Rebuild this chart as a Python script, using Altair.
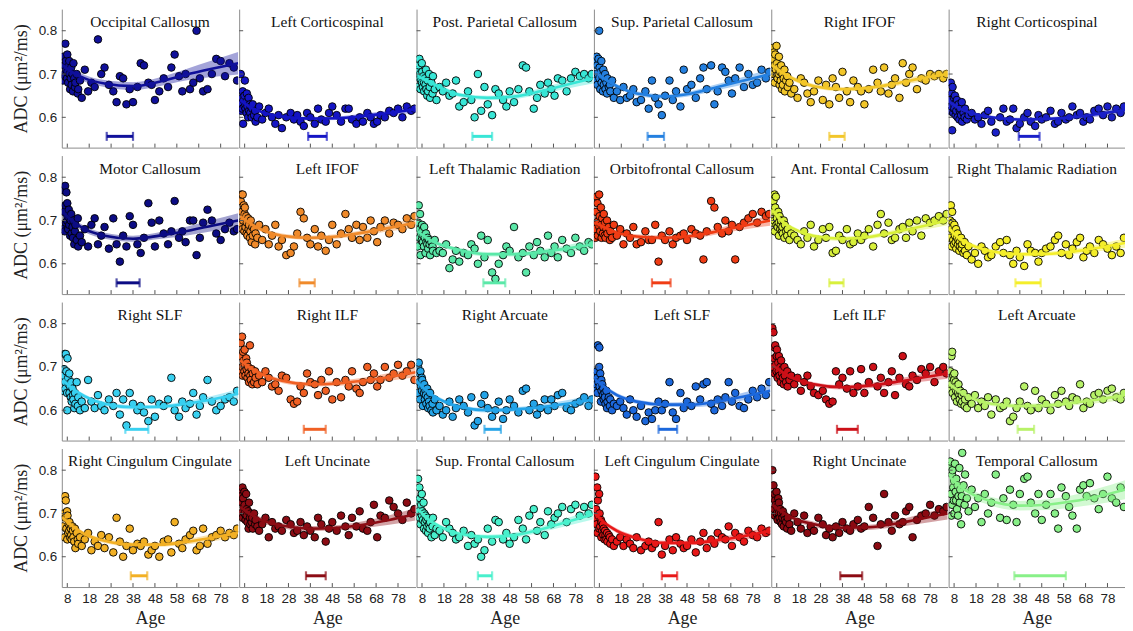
import altair as alt
import pandas as pd

# ---------------- layout constants ----------------
W, H = 177, 139
X_DOMAIN = [5.5, 86]
Y_DOMAIN = [0.53, 0.85]
X_TICKS = [8, 18, 28, 38, 48, 58, 68, 78]
Y_TICKS = [0.6, 0.7, 0.8]
BAR_LEVEL = 0.556

# ---------------- data ----------------
AGES = [6.0, 6.2, 6.5, 6.8, 7.0, 7.1, 7.3, 7.6, 7.9, 8.0,
        8.1, 8.4, 8.7, 8.9, 9.0, 9.3, 9.6, 9.8, 10.0, 10.4,
        10.6, 10.8, 11.2, 11.5, 11.7, 12.3, 12.8, 13.0, 13.8, 14.6,
        16, 17.5, 19, 20.5, 22, 23.5, 25, 27, 29, 30.5,
        32, 33.5, 35, 36.5, 38, 40, 41.5, 43, 45, 46.5,
        48, 50, 52, 54, 55.5, 57, 59, 60.5, 62, 64,
        65.5, 67, 68.5, 70, 72, 74, 76, 78, 80, 82,
        84, 85.5]

FIT_AGES = [6, 10, 16, 25, 38, 50, 62, 74, 86]

TITLES = ["Occipital Callosum", "Left Corticospinal", "Post. Parietal Callosum",
          "Sup. Parietal Callosum", "Right IFOF", "Right Corticospinal",
          "Motor Callosum", "Left IFOF", "Left Thalamic Radiation",
          "Orbitofrontal Callosum", "Ant. Frontal Callosum", "Right Thalamic Radiation",
          "Right SLF", "Right ILF", "Right Arcuate",
          "Left SLF", "Left ILF", "Left Arcuate",
          "Right Cingulum Cingulate", "Left Uncinate", "Sup. Frontal Callosum",
          "Left Cingulum Cingulate", "Right Uncinate", "Temporal Callosum"]

COLORS = ["#10109a", "#1414c4", "#38e6d6", "#2480e0", "#f2c62a", "#1a20c8",
          "#0c0c84", "#f08a2a", "#5ae8a8", "#f03c14", "#d8f03a", "#f4ee2a",
          "#38d0f0", "#f06024", "#24a4e8", "#1c68dc", "#cc1018", "#b8f268",
          "#f2b024", "#8c0c14", "#48f0cc", "#e81818", "#8c0a12", "#88f088"]

# age range (years) of the horizontal bar under each curve
BAR_RANGES = [[26, 38], [37, 45.5], [31, 40], [30, 37.5], [32, 39], [37.5, 47],
              [30.5, 41], [33, 40], [36, 46], [32, 40.5], [32, 38.5], [36, 47.5],
              [34.5, 45], [35, 45], [36.5, 44], [35, 43.5], [35.5, 45], [37, 44.5],
              [37, 44.5], [36, 45], [33.5, 40], [36.5, 43.5], [37, 47], [35.5, 59]]

ADC_01 = [.685, .74, .72, .70, .695, .77, .73, .71, .69, .745,
          .705, .68, .72, .73, .70, .665, .69, .715, .675, .70,
          .66, .725, .69, .67, .68, .70, .655, .665, .685, .645,
          .71, .66, .68, .67, .78, .70, .715, .675, .66, .635,
          .695, .69, .63, .665, .635, .67, .725, .72, .68, .675,
          .64, .66, .69, .67, .715, .745, .695, .66, .70, .665,
          .68, .80, .69, .66, .665, .70, .735, .73, .695, .725,
          .715, .685]
ADC_02 = [.63, .70, .615, .645, .62, .66, .585, .64, .65, .625,
          .685, .62, .635, .61, .655, .625, .60, .645, .615, .63,
          .61, .625, .60, .62, .63, .605, .615, .59, .60, .625,
          .595, .61, .62, .60, .585, .605, .575, .60, .61, .595,
          .605, .59, .58, .61, .60, .585, .62, .595, .59, .61,
          .625, .605, .59, .62, .62, .595, .585, .60, .59, .61,
          .60, .585, .59, .605, .60, .615, .61, .62, .60, .625,
          .615, .62]
ADC_03 = [.67, .71, .72, .735, .69, .70, .665, .685, .725, .68,
          .705, .67, .695, .68, .66, .69, .675, .71, .665, .65,
          .685, .66, .70, .67, .645, .68, .655, .695, .665, .64,
          .67, .66, .68, .65, .655, .685, .625, .635, .66, .64,
          .60, .70, .615, .67, .63, .605, .665, .655, .64, .625,
          .66, .635, .665, .72, .715, .66, .62, .645, .675, .655,
          .68, .665, .65, .69, .685, .66, .69, .705, .695, .70,
          .69, .70]
ADC_04 = [.70, .73, .685, .74, .72, .675, .70, .735, .80, .69,
          .715, .665, .705, .73, .68, .695, .66, .71, .675, .69,
          .70, .665, .68, .655, .69, .67, .675, .66, .685, .645,
          .66, .64, .67, .645, .65, .665, .635, .64, .66, .62,
          .685, .645, .63, .605, .65, .685, .64, .66, .625, .71,
          .665, .675, .645, .69, .715, .665, .72, .63, .66, .715,
          .705, .685, .655, .69, .715, .67, .70, .675, .68, .71,
          .69, .705]
ADC_05 = [.76, .735, .70, .75, .72, .68, .745, .71, .765, .695,
          .725, .69, .715, .70, .74, .675, .705, .685, .72, .665,
          .70, .675, .69, .71, .66, .685, .695, .67, .68, .655,
          .665, .645, .69, .68, .655, .635, .66, .685, .64, .675,
          .63, .69, .67, .645, .705, .66, .635, .685, .67, .66,
          .63, .665, .71, .68, .66, .715, .655, .675, .69, .645,
          .725, .68, .70, .715, .665, .69, .685, .70, .695, .70,
          .69, .70]
ADC_06 = [.64, .615, .68, .625, .655, .57, .67, .61, .645, .63,
          .62, .65, .605, .635, .615, .64, .60, .625, .63, .595,
          .615, .62, .605, .635, .59, .61, .60, .62, .595, .605,
          .61, .595, .60, .585, .605, .615, .59, .565, .60, .62,
          .59, .595, .62, .575, .585, .60, .61, .59, .58, .605,
          .595, .60, .615, .585, .59, .61, .595, .60, .625, .605,
          .61, .59, .60, .595, .615, .62, .605, .625, .60, .62,
          .61, .625]
ADC_07 = [.68, .77, .72, .675, .78, .735, .695, .765, .70, .74,
          .71, .68, .725, .69, .705, .665, .70, .715, .67, .685,
          .66, .70, .645, .675, .69, .655, .705, .64, .665, .65,
          .68, .64, .69, .705, .645, .665, .685, .635, .705, .645,
          .605, .665, .64, .71, .69, .645, .625, .66, .74, .695,
          .64, .70, .67, .645, .675, .745, .66, .675, .65, .70,
          .70, .62, .66, .695, .725, .70, .67, .655, .68, .695,
          .675, .68]
ADC_08 = [.69, .745, .76, .72, .68, .76, .70, .735, .675, .715,
          .73, .685, .71, .67, .695, .665, .705, .68, .69, .66,
          .675, .70, .65, .685, .665, .68, .645, .67, .66, .69,
          .655, .68, .645, .665, .69, .64, .655, .62, .625, .64,
          .67, .72, .705, .66, .645, .68, .64, .665, .63, .655,
          .69, .645, .67, .715, .68, .66, .69, .655, .685, .66,
          .70, .675, .65, .685, .70, .67, .695, .69, .68, .705,
          .69, .71]
ADC_09 = [.64, .695, .735, .66, .68, .715, .62, .67, .655, .69,
          .675, .65, .665, .64, .685, .66, .625, .67, .65, .645,
          .66, .635, .655, .645, .62, .65, .64, .63, .655, .625,
          .63, .625, .645, .59, .61, .63, .605, .625, .62, .645,
          .635, .60, .665, .615, .655, .58, .565, .60, .62, .64,
          .63, .685, .615, .625, .58, .64, .62, .65, .63, .615,
          .665, .625, .64, .615, .655, .635, .625, .66, .64, .63,
          .65, .645]
ADC_10 = [.68, .66, .72, .755, .695, .74, .665, .70, .76, .685,
          .71, .675, .73, .69, .66, .705, .67, .685, .715, .665,
          .695, .66, .68, .70, .67, .685, .655, .675, .66, .69,
          .665, .68, .645, .67, .66, .685, .645, .65, .675, .655,
          .655, .69, .605, .665, .655, .675, .645, .66, .665, .67,
          .655, .68, .67, .665, .61, .675, .745, .73, .685, .67,
          .70, .675, .69, .61, .685, .695, .705, .715, .695, .72,
          .71, .715]
ADC_11 = [.695, .72, .745, .70, .76, .675, .73, .755, .69, .715,
          .705, .685, .72, .695, .665, .71, .68, .69, .70, .675,
          .685, .67, .70, .66, .69, .675, .665, .68, .655, .67,
          .665, .655, .645, .675, .66, .69, .64, .655, .68, .66,
          .685, .625, .63, .665, .655, .68, .645, .65, .67, .655,
          .665, .68, .64, .69, .715, .67, .695, .655, .66, .68,
          .685, .66, .695, .675, .70, .665, .705, .695, .70, .71,
          .70, .715]
ADC_12 = [.66, .70, .735, .68, .64, .72, .695, .655, .675, .645,
          .69, .665, .65, .68, .635, .66, .67, .645, .655, .63,
          .65, .64, .66, .635, .645, .625, .65, .63, .62, .64,
          .61, .625, .60, .64, .63, .615, .62, .64, .65, .625,
          .655, .62, .60, .63, .615, .595, .645, .63, .625, .605,
          .625, .635, .64, .655, .665, .625, .645, .62, .635, .65,
          .66, .615, .63, .64, .625, .655, .645, .635, .62, .64,
          .625, .66]
ADC_13 = [.645, .68, .695, .73, .665, .65, .73, .69, .64, .60,
          .72, .675, .66, .685, .64, .655, .63, .665, .62, .65,
          .635, .625, .605, .64, .615, .665, .61, .63, .60, .62,
          .605, .67, .62, .605, .635, .61, .60, .625, .61, .64,
          .59, .625, .565, .64, .615, .60, .61, .595, .575, .625,
          .585, .615, .61, .625, .675, .60, .585, .62, .605, .615,
          .64, .59, .61, .63, .67, .62, .60, .61, .625, .63,
          .62, .645]
ADC_14 = [.69, .755, .725, .77, .70, .68, .735, .715, .69, .74,
          .705, .68, .72, .695, .71, .675, .70, .685, .665, .75,
          .68, .67, .695, .66, .685, .665, .69, .675, .66, .68,
          .665, .69, .675, .655, .66, .645, .68, .675, .625, .615,
          .62, .655, .64, .685, .665, .66, .635, .67, .645, .69,
          .625, .665, .63, .67, .655, .69, .65, .64, .665, .70,
          .67, .685, .655, .67, .70, .675, .685, .705, .68, .69,
          .705, .67]
ADC_15 = [.64, .70, .71, .665, .685, .625, .69, .655, .675, .645,
          .67, .61, .655, .64, .66, .625, .645, .635, .615, .65,
          .63, .605, .62, .61, .64, .60, .615, .595, .625, .60,
          .61, .59, .60, .62, .585, .605, .625, .61, .595, .63,
          .565, .575, .615, .635, .605, .585, .60, .62, .58, .60,
          .625, .61, .595, .645, .65, .60, .615, .59, .605, .625,
          .60, .625, .61, .635, .64, .605, .60, .615, .62, .63,
          .61, .625]
ADC_16 = [.65, .68, .66, .69, .675, .64, .75, .665, .70, .745,
          .655, .685, .62, .67, .645, .66, .635, .65, .625, .64,
          .63, .615, .645, .605, .62, .63, .61, .625, .60, .615,
          .61, .62, .605, .59, .625, .60, .585, .61, .575, .595,
          .58, .60, .62, .60, .615, .665, .595, .58, .64, .605,
          .62, .61, .655, .625, .66, .665, .615, .60, .625, .61,
          .63, .665, .62, .64, .61, .605, .625, .645, .63, .65,
          .635, .665]
ADC_17 = [.79, .70, .78, .72, .745, .685, .75, .705, .69, .725,
          .74, .675, .71, .69, .725, .68, .70, .665, .715, .685,
          .695, .675, .66, .70, .68, .665, .69, .655, .67, .68,
          .66, .675, .645, .665, .68, .655, .64, .635, .645, .625,
          .615, .62, .69, .66, .675, .65, .69, .64, .655, .695,
          .64, .665, .70, .655, .675, .64, .665, .69, .635, .675,
          .725, .66, .655, .68, .67, .695, .685, .70, .665, .69,
          .70, .685]
ADC_18 = [.65, .69, .66, .725, .675, .735, .64, .68, .655, .67,
          .685, .63, .665, .645, .655, .62, .65, .64, .66, .635,
          .625, .645, .615, .635, .62, .64, .61, .625, .605, .63,
          .615, .635, .605, .62, .61, .63, .59, .625, .605, .61,
          .62, .575, .585, .605, .62, .655, .61, .60, .645, .605,
          .625, .615, .60, .635, .615, .645, .62, .61, .63, .625,
          .66, .605, .62, .615, .635, .64, .625, .645, .65, .63,
          .625, .64]
ADC_19 = [.67, .735, .70, .645, .74, .69, .73, .665, .705, .64,
          .695, .655, .675, .66, .68, .645, .665, .65, .64, .67,
          .66, .645, .635, .665, .62, .655, .64, .63, .645, .625,
          .64, .655, .615, .635, .625, .65, .62, .645, .61, .69,
          .635, .60, .625, .665, .615, .63, .625, .635, .605, .615,
          .625, .60, .635, .64, .61, .68, .63, .62, .64, .65,
          .66, .615, .625, .665, .63, .645, .65, .66, .645, .655,
          .65, .665]
ADC_20 = [.70, .755, .74, .725, .76, .69, .735, .715, .75, .70,
          .72, .685, .745, .695, .71, .68, .705, .665, .725, .69,
          .675, .70, .68, .69, .665, .70, .675, .685, .67, .66,
          .675, .69, .645, .68, .665, .67, .66, .685, .675, .655,
          .66, .68, .65, .67, .66, .645, .69, .675, .635, .665,
          .68, .66, .695, .67, .65, .69, .67, .705, .665, .66,
          .68, .72, .645, .695, .69, .73, .715, .70, .685, .725,
          .70, .71]
ADC_21 = [.73, .78, .705, .76, .69, .735, .675, .72, .745, .695,
          .705, .685, .725, .665, .70, .68, .695, .66, .685, .67,
          .69, .655, .675, .665, .68, .645, .67, .69, .65, .665,
          .66, .645, .68, .665, .655, .64, .645, .66, .625, .65,
          .63, .64, .60, .615, .665, .635, .685, .68, .64, .655,
          .63, .645, .685, .665, .64, .695, .71, .66, .68, .65,
          .705, .675, .69, .70, .715, .68, .71, .72, .695, .715,
          .70, .72]
ADC_22 = [.69, .785, .71, .675, .76, .655, .73, .695, .745, .665,
          .70, .67, .685, .645, .68, .66, .675, .65, .665, .64,
          .66, .65, .64, .655, .635, .65, .645, .63, .64, .625,
          .635, .645, .625, .64, .63, .62, .645, .615, .625, .635,
          .62, .63, .68, .605, .625, .64, .615, .645, .63, .62,
          .625, .64, .61, .635, .655, .62, .64, .63, .655, .645,
          .64, .67, .625, .655, .645, .635, .66, .65, .645, .665,
          .655, .66]
ADC_23 = [.80, .735, .765, .71, .745, .695, .73, .72, .75, .70,
          .715, .685, .735, .70, .725, .69, .71, .68, .70, .675,
          .69, .705, .67, .695, .685, .68, .665, .69, .675, .66,
          .70, .68, .665, .695, .655, .67, .66, .69, .675, .65,
          .665, .645, .67, .655, .68, .665, .66, .675, .685, .665,
          .67, .715, .69, .625, .675, .745, .68, .66, .695, .675,
          .68, .705, .715, .645, .685, .695, .70, .72, .695, .71,
          .705, .715]
ADC_24 = [.81, .82, .745, .695, .79, .72, .80, .76, .73, .775,
          .70, .815, .75, .73, .78, .71, .765, .695, .74, .805,
          .725, .755, .675, .74, .84, .765, .72, .79, .735, .705,
          .755, .715, .735, .68, .745, .70, .725, .79, .69, .735,
          .685, .755, .72, .68, .745, .78, .785, .725, .70, .745,
          .685, .72, .745, .70, .665, .76, .74, .715, .695, .665,
          .755, .765, .74, .77, .735, .71, .745, .785, .735, .725,
          .76, .715]

FIT_01 = [.72, .705, .69, .678, .672, .682, .698, .712, .725]
FIT_02 = [.64, .625, .612, .602, .597, .598, .603, .61, .619]
FIT_03 = [.695, .685, .67, .652, .645, .648, .66, .675, .69]
FIT_04 = [.705, .69, .672, .655, .648, .655, .67, .685, .70]
FIT_05 = [.72, .705, .688, .672, .665, .668, .678, .69, .70]
FIT_06 = [.635, .622, .61, .60, .595, .596, .60, .608, .617]
FIT_07 = [.72, .70, .68, .665, .658, .665, .675, .688, .70]
FIT_08 = [.71, .695, .678, .665, .66, .663, .672, .683, .695]
FIT_09 = [.675, .66, .645, .632, .622, .622, .627, .635, .645]
FIT_10 = [.695, .685, .672, .663, .66, .664, .675, .688, .70]
FIT_11 = [.725, .70, .68, .664, .658, .662, .673, .686, .70]
FIT_12 = [.68, .66, .643, .629, .622, .623, .628, .637, .648]
FIT_13 = [.67, .652, .632, .615, .607, .608, .615, .625, .638]
FIT_14 = [.715, .70, .683, .668, .66, .662, .668, .677, .688]
FIT_15 = [.665, .645, .625, .608, .60, .602, .607, .615, .625]
FIT_16 = [.672, .655, .635, .62, .613, .613, .62, .632, .645]
FIT_17 = [.705, .69, .673, .66, .653, .657, .665, .675, .685]
FIT_18 = [.66, .645, .628, .615, .61, .611, .617, .625, .635]
FIT_19 = [.69, .672, .652, .637, .628, .628, .634, .644, .655]
FIT_20 = [.715, .70, .684, .672, .665, .667, .674, .685, .698]
FIT_21 = [.71, .69, .67, .653, .646, .65, .663, .68, .698]
FIT_22 = [.70, .68, .66, .643, .632, .632, .638, .648, .66]
FIT_23 = [.72, .705, .688, .675, .667, .668, .676, .688, .70]
FIT_24 = [.785, .765, .745, .728, .718, .72, .728, .74, .755]

CI_01 = [.015, .009, .008, .008, .009, .010, .013, .019, .026]
CI_02 = [.008, .005, .004, .004, .004, .004, .005, .006, .008]
CI_03 = [.010, .006, .005, .005, .005, .006, .007, .009, .012]
CI_04 = [.010, .006, .005, .005, .005, .006, .007, .009, .012]
CI_05 = [.010, .006, .005, .005, .005, .005, .006, .008, .011]
CI_06 = [.008, .005, .004, .004, .004, .004, .005, .006, .008]
CI_07 = [.013, .008, .007, .007, .007, .008, .010, .013, .017]
CI_08 = [.010, .006, .005, .005, .005, .005, .006, .008, .011]
CI_09 = [.010, .006, .005, .005, .005, .005, .006, .008, .011]
CI_10 = [.010, .006, .005, .005, .005, .006, .007, .009, .012]
CI_11 = [.010, .006, .005, .005, .005, .005, .006, .008, .011]
CI_12 = [.010, .006, .005, .005, .005, .005, .006, .008, .011]
CI_13 = [.010, .006, .005, .005, .005, .005, .006, .008, .011]
CI_14 = [.010, .006, .005, .005, .005, .006, .007, .009, .012]
CI_15 = [.010, .006, .005, .005, .005, .005, .006, .008, .011]
CI_16 = [.010, .006, .005, .005, .005, .006, .007, .009, .012]
CI_17 = [.010, .006, .005, .005, .005, .006, .007, .009, .012]
CI_18 = [.010, .006, .005, .005, .005, .005, .006, .008, .011]
CI_19 = [.010, .006, .005, .005, .005, .005, .006, .008, .011]
CI_20 = [.011, .007, .006, .006, .006, .006, .008, .011, .014]
CI_21 = [.010, .006, .005, .005, .005, .006, .007, .009, .012]
CI_22 = [.010, .006, .005, .005, .005, .005, .006, .008, .011]
CI_23 = [.011, .007, .006, .006, .006, .006, .008, .011, .014]
CI_24 = [.020, .012, .010, .010, .011, .012, .014, .018, .022]

ADC = [ADC_01, ADC_02, ADC_03, ADC_04, ADC_05, ADC_06, ADC_07, ADC_08,
       ADC_09, ADC_10, ADC_11, ADC_12, ADC_13, ADC_14, ADC_15, ADC_16,
       ADC_17, ADC_18, ADC_19, ADC_20, ADC_21, ADC_22, ADC_23, ADC_24]
FIT = [FIT_01, FIT_02, FIT_03, FIT_04, FIT_05, FIT_06, FIT_07, FIT_08,
       FIT_09, FIT_10, FIT_11, FIT_12, FIT_13, FIT_14, FIT_15, FIT_16,
       FIT_17, FIT_18, FIT_19, FIT_20, FIT_21, FIT_22, FIT_23, FIT_24]
CI = [CI_01, CI_02, CI_03, CI_04, CI_05, CI_06, CI_07, CI_08,
      CI_09, CI_10, CI_11, CI_12, CI_13, CI_14, CI_15, CI_16,
      CI_17, CI_18, CI_19, CI_20, CI_21, CI_22, CI_23, CI_24]

SERIF = "Liberation Serif"
SANS = "Liberation Sans"
AXIS_GRAY = "#8c8c8c"


def panel(i, row, col):
    color = COLORS[i]
    bottom = row == 3
    left = col == 0
    xs = alt.Scale(domain=X_DOMAIN, nice=False, zero=False)
    ys = alt.Scale(domain=Y_DOMAIN, nice=False, zero=False)
    xaxis = alt.Axis(values=X_TICKS, labels=bottom, ticks=False, grid=False,
                     domainColor=AXIS_GRAY, labelFont=SANS, labelFontSize=13.5,
                     labelColor="#222", labelPadding=5, titleFont=SERIF,
                     titleFontSize=18, titleFontWeight="normal", titleColor="#222",
                     titlePadding=4)
    yaxis = alt.Axis(values=Y_TICKS, labels=left, ticks=False, grid=False,
                     format=".1f", domainColor=AXIS_GRAY, labelFont=SANS,
                     labelFontSize=13.5, labelColor="#222", labelPadding=5,
                     titleFont=SERIF, titleFontSize=18, titleFontWeight="normal",
                     titleColor="#222", titlePadding=8)
    xt = "Age" if bottom else None
    yt = "ADC (μm²/ms)" if left else None

    def X(f):
        return alt.X(f, type="quantitative", scale=xs, axis=xaxis, title=xt)

    def Y(f):
        return alt.Y(f, type="quantitative", scale=ys, axis=yaxis, title=yt)

    ybar = alt.YDatum(BAR_LEVEL, scale=ys, axis=yaxis, title=yt)

    pts = pd.DataFrame({"age": AGES, "adc": ADC[i]})
    fit = pd.DataFrame({"age": FIT_AGES, "adc": FIT[i],
                        "lo": [f - c for f, c in zip(FIT[i], CI[i])],
                        "hi": [f + c for f, c in zip(FIT[i], CI[i])]})
    bar = pd.DataFrame({"lo": [BAR_RANGES[i][0]], "hi": [BAR_RANGES[i][1]]})

    points = alt.Chart(pts).mark_circle(
        size=58, fill=color, stroke="black", strokeWidth=0.9, opacity=1, clip=True
    ).encode(x=X("age"), y=Y("adc"))
    band = alt.Chart(fit).mark_area(
        color=color, opacity=0.38, interpolate="monotone", clip=True
    ).encode(x=X("age"), y=Y("lo"), y2=alt.Y2("hi"))
    line = alt.Chart(fit).mark_line(
        color=color, strokeWidth=2.6, interpolate="monotone", clip=True
    ).encode(x=X("age"), y=Y("adc"))
    rule = alt.Chart(bar).mark_rule(color=color, strokeWidth=3).encode(
        x=X("lo"), x2=alt.X2("hi"), y=ybar)
    cap_lo = alt.Chart(bar).mark_tick(color=color, orient="vertical", size=9,
                                      thickness=2.2).encode(x=X("lo"), y=ybar)
    cap_hi = alt.Chart(bar).mark_tick(color=color, orient="vertical", size=9,
                                      thickness=2.2).encode(x=X("hi"), y=ybar)
    xticks = alt.Chart(pd.DataFrame({"age": X_TICKS})).mark_rule(
        color="#555", strokeWidth=1).encode(
        x=X("age"), y=alt.value(H), y2=alt.value(H - 4))
    yticks = alt.Chart(pd.DataFrame({"adc": Y_TICKS})).mark_rule(
        color="#555", strokeWidth=1).encode(
        y=Y("adc"), x=alt.value(0), x2=alt.value(4))
    title = alt.Chart(pd.DataFrame({"t": [TITLES[i]]})).mark_text(
        font=SERIF, fontSize=15.5, color="#111", align="center", baseline="middle"
    ).encode(x=alt.value(W / 2), y=alt.value(13), text="t:N")

    return alt.layer(points, band, line, rule, cap_lo, cap_hi, xticks, yticks,
                     title).properties(width=W, height=H)


rows = []
for r in range(4):
    rows.append(alt.hconcat(*[panel(r * 6 + c, r, c) for c in range(6)], spacing=0))

chart = alt.vconcat(*rows, spacing=7).properties(
    padding={"left": 4, "top": 0, "right": 0, "bottom": 0}
).configure_view(strokeWidth=0)

chart.save("out.html", embed_options={"renderer": "svg", "actions": False})
